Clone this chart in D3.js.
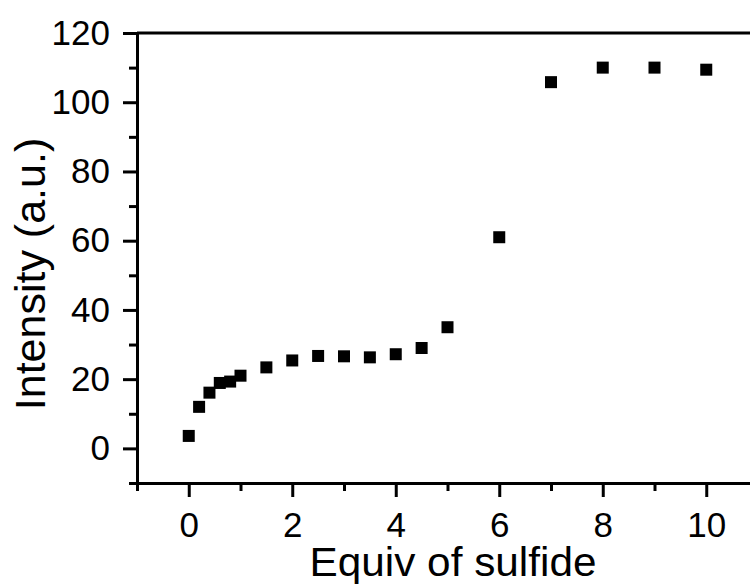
<!DOCTYPE html>
<html>
<head>
<meta charset="utf-8">
<script src="https://cdn.jsdelivr.net/npm/d3@7"></script>
<style>
  body { margin: 0; background: #fff; }
  svg { display: block; font-family: Arial, "Liberation Sans", sans-serif; }
</style>
</head>
<body>
<div id="chart"></div>
<script>
// equiv of sulfide vs intensity
var equiv = [0, 0.2, 0.4, 0.6, 0.8, 1, 1.5, 2, 2.5, 3, 3.5, 4, 4.5, 5, 6, 7, 8, 9, 10];
var intensity = [3.6, 12.0, 16.1, 18.9, 19.3, 21.0, 23.4, 25.4, 26.7, 26.6, 26.3, 27.2, 29.0, 35.0, 61.0, 105.8, 110.0, 110.0, 109.4];
var xMajor = [0, 2, 4, 6, 8, 10];
var xMinor = [-1, 1, 3, 5, 7, 9, 11];
var yMajor = [0, 20, 40, 60, 80, 100, 120];
var yMinor = [-10, 10, 30, 50, 70, 90, 110];

var width = 750, height = 587;

var svg = d3.select("#chart").append("svg")
    .attr("width", width)
    .attr("height", height);

var x = d3.scaleLinear().domain([-1, 11]).range([137, 758]);
var y = d3.scaleLinear().domain([-10, 120]).range([483, 33]);

function styleAxis(g) {
    g.selectAll("path, line").attr("stroke", "#000").attr("stroke-width", 3);
    g.selectAll("text").attr("fill", "#000").attr("font-size", 35);
}

// minor ticks
svg.append("g")
    .attr("transform", "translate(0," + y(-10) + ")")
    .call(d3.axisBottom(x).tickValues(xMinor).tickSize(8).tickFormat(""))
    .call(styleAxis);
svg.append("g")
    .attr("transform", "translate(" + x(-1) + ",0)")
    .call(d3.axisLeft(y).tickValues(yMinor).tickSize(8).tickFormat(""))
    .call(styleAxis);

// major ticks + labels
svg.append("g")
    .attr("transform", "translate(0," + y(-10) + ")")
    .call(d3.axisBottom(x).tickValues(xMajor).tickSize(14).tickSizeOuter(0).tickPadding(15).tickFormat(d3.format("d")))
    .call(styleAxis)
    .call(function(g) { g.selectAll("text").attr("dy", "0.71em"); });
svg.append("g")
    .attr("transform", "translate(" + x(-1) + ",0)")
    .call(d3.axisLeft(y).tickValues(yMajor).tickSize(14).tickSizeOuter(0).tickPadding(13).tickFormat(d3.format("d")))
    .call(styleAxis);

// top frame line
svg.append("line")
    .attr("x1", x(-1)).attr("x2", width)
    .attr("y1", y(120)).attr("y2", y(120))
    .attr("stroke", "#000").attr("stroke-width", 3);

// markers
var s = 12;
svg.append("g").selectAll("rect")
    .data(equiv)
    .enter().append("rect")
    .attr("x", function(d) { return x(d) - s / 2; })
    .attr("y", function(d, i) { return y(intensity[i]) - s / 2; })
    .attr("width", s)
    .attr("height", s)
    .attr("fill", "#000");

// axis titles
svg.append("text")
    .attr("x", 453)
    .attr("y", 576)
    .attr("text-anchor", "middle")
    .attr("font-size", 40)
    .attr("textLength", 287)
    .attr("lengthAdjust", "spacingAndGlyphs")
    .text("Equiv of sulfide");

svg.append("text")
    .attr("transform", "translate(45,274) rotate(-90)")
    .attr("text-anchor", "middle")
    .attr("font-size", 43)
    .text("Intensity (a.u.)");
</script>
</body>
</html>
